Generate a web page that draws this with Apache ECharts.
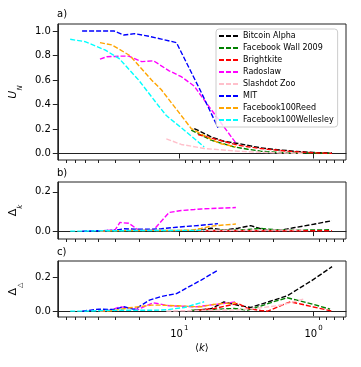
<!DOCTYPE html>
<html>
<head>
<meta charset="utf-8">
<script src="https://cdn.jsdelivr.net/npm/echarts@6/dist/echarts.min.js"></script>
<style>
  html, body { margin: 0; padding: 0; background: #fff; }
  #chart { width: 361px; height: 367px; }
</style>
</head>
<body>
<div id="chart"></div>
<script>
// <k> values and the three measures per network
const names = ['Bitcoin Alpha', 'Facebook Wall 2009', 'Brightkite', 'Radoslaw', 'Slashdot Zoo', 'MIT', 'Facebook100Reed', 'Facebook100Wellesley'];
const colors = ['#000000', '#008000', '#ff0000', '#ff00ff', '#ffc0cb', '#0000ff', '#ffa500', '#00ffff'];

const bitcoinK  = [7.74, 5.80, 4.65, 3.66, 2.94, 2.48, 2.20, 1.76, 1.57, 1.41, 1.0, 0.728];
const bitcoinU  = [0.204, 0.136, 0.10, 0.082, 0.062, 0.046, 0.04, 0.028, 0.024, 0.019, 0.008, 0.005];
const bitcoinDk = [0, 0.015, 0.005, 0.015, 0.028, 0.012, 0.005, 0.005, 0.011, 0.017, 0.035, 0.053];
const bitcoinDt = [0.005, 0.014, 0.055, 0.035, 0.022, 0.041, 0.054, 0.079, 0.092, 0.115, 0.19, 0.266];

const fbWallK  = [8.15, 5.80, 3.92, 3.09, 2.48, 1.92, 1.57, 1.25, 1.0, 0.753];
const fbWallU  = [0.19, 0.109, 0.054, 0.035, 0.019, 0.01, 0.006, 0.004, 0.003, 0.002];
const fbWallDk = [0.003, 0.004, 0.005, 0.008, 0.014, 0.007, 0.005, 0.005, 0.006, 0.007];
const fbWallDt = [0.005, 0.01, 0.016, 0.006, 0.03, 0.06, 0.08, 0.06, 0.04, 0.012];

const brightK  = [7.24, 5.51, 3.66, 3.09, 2.48, 2.20, 1.49, 1.25, 1.0, 0.728];
const brightU  = [0.155, 0.12, 0.068, 0.055, 0.041, 0.035, 0.017, 0.012, 0.006, 0.001];
const brightDk = [0.002, 0.002, 0.002, 0.002, 0.002, 0.002, 0.002, 0.002, 0.002, 0.002];
const brightDt = [0.005, 0.016, 0.046, 0.016, 0.004, 0.0, 0.056, 0.043, 0.025, 0.0];

const radoK  = [39.0, 34.7, 30.2, 27.7, 23.8, 20.1, 19.1, 15.6, 11.9, 9.67, 7.74, 6.87, 3.79];
const radoU  = [0.77, 0.79, 0.792, 0.795, 0.795, 0.76, 0.75, 0.757, 0.675, 0.627, 0.55, 0.47, 0.085];
const radoDk = [0, 0.003, 0.005, 0.044, 0.04, 0.005, 0.004, 0.005, 0.095, 0.105, 0.11, 0.113, 0.12];
const radoDt = [0, 0.002, 0.015, 0.026, 0.02, 0.01, 0.02, 0.05, 0.032, 0.03, 0.025, 0.03, 0.055];

const slashK  = [12.5, 9.67, 6.53, 3.66, 2.48, 1.85, 1.49, 1.19];
const slashU  = [0.12, 0.074, 0.041, 0.019, 0.01, 0.005, 0.003, 0.002];
const slashDk = [0.003, 0.004, 0.004, 0.005, 0.005, 0.005, 0.005, 0.005];
const slashDt = [0, 0.002, 0.005, 0.008, 0.02, 0.033, 0.05, 0.072];

const mitK  = [53.0, 39.7, 30.7, 25.9, 21.5, 16.7, 13.6, 10.5, 6.87, 5.15];
const mitU  = [1.0, 1.0, 1.0, 0.967, 0.978, 0.956, 0.934, 0.905, 0.50, 0.21];
const mitDk = [0, 0.002, 0.004, 0.012, 0.01, 0.01, 0.012, 0.02, 0.03, 0.038];
const mitDt = [0, 0.012, 0.01, 0.026, 0.01, 0.066, 0.088, 0.105, 0.186, 0.245];

const reedK  = [39.0, 31.8, 23.4, 16.1, 13.6, 8.15, 6.87, 5.80, 4.90, 3.79];
const reedU  = [0.905, 0.886, 0.80, 0.60, 0.52, 0.204, 0.16, 0.115, 0.08, 0.054];
const reedDk = [0, 0.002, 0.003, 0.004, 0.003, 0.005, 0.014, 0.025, 0.03, 0.036];
const reedDt = [0, 0.002, 0.02, 0.036, 0.036, 0.028, 0.026, 0.038, 0.045, 0.05];

const wellK  = [65.0, 50.4, 35.8, 28.2, 20.1, 14.3, 12.5, 9.18, 6.53];
const wellU  = [0.932, 0.913, 0.845, 0.777, 0.60, 0.39, 0.31, 0.19, 0.054];
const wellDk = [0, 0, 0.002, 0.002, 0.003, 0.003, 0.003, 0.004, 0.004];
const wellDt = [0, 0, 0.004, 0.005, 0.005, 0.006, 0.008, 0.022, 0.056];

const majorTicks = [1, 10];
const minorTicks = [0.6, 0.7, 0.8, 0.9, 2, 3, 4, 5, 6, 7, 8, 9, 20, 30, 40, 50, 60, 70];
const uTicks = [0, 0.2, 0.4, 0.6, 0.8, 1.0];
const dTicks = [0, 0.2];

const nets = [
  [bitcoinK, bitcoinU, bitcoinDk, bitcoinDt],
  [fbWallK, fbWallU, fbWallDk, fbWallDt],
  [brightK, brightU, brightDk, brightDt],
  [radoK, radoU, radoDk, radoDt],
  [slashK, slashU, slashDk, slashDt],
  [mitK, mitU, mitDk, mitDt],
  [reedK, reedU, reedDk, reedDt],
  [wellK, wellU, wellDk, wellDt]
];

const FONT = 'DejaVu Sans';
const xMin = 0.573, xMax = 80.4;

let chart = echarts.init(document.getElementById('chart'), null, {renderer: 'canvas'});

const grids = [
  {left: 55, right: 15, top: 24, height: 136},
  {left: 55, right: 15, top: 182, height: 57},
  {left: 55, right: 15, top: 261, height: 56}
].map(g => Object.assign({show: true, borderColor: '#222', borderWidth: 1, backgroundColor: 'transparent'}, g));

function xAxes(gi) {
  const last = gi === 2;
  return [{
    type: 'log', gridIndex: gi, position: 'bottom', inverse: true, min: xMin, max: xMax, logBase: 10,
    axisLine: {lineStyle: {color: '#222', width: 1}},
    axisTick: {customValues: majorTicks, length: 5, lineStyle: {color: '#222'}},
    axisLabel: {
      show: last, customValues: majorTicks, margin: 8, color: '#000',
      formatter: v => '{n|10}{sup|' + (v >= 5 ? '1' : '0') + '}',
      rich: {
        n: {fontSize: 10, fontFamily: FONT, color: '#000', lineHeight: 14, verticalAlign: 'bottom'},
        sup: {fontSize: 7, fontFamily: FONT, color: '#000', lineHeight: 14, verticalAlign: 'top', padding: [0, 0, 4, 1]}
      }
    },
    splitLine: {show: false},
    name: last ? '⟨{i|k}⟩' : '',
    nameLocation: 'middle', nameGap: 26,
    nameTextStyle: {fontSize: 10, fontFamily: FONT, color: '#000', rich: {i: {fontSize: 10, fontStyle: 'italic', fontFamily: FONT}}}
  }, {
    // second axis on the same scale, only for the minor ticks
    type: 'log', gridIndex: gi, position: 'bottom', offset: 0, inverse: true, min: xMin, max: xMax, logBase: 10,
    axisLine: {show: false},
    axisTick: {customValues: minorTicks, length: 3, lineStyle: {color: '#222'}},
    axisLabel: {show: false},
    splitLine: {show: false}
  }];
}

function yAxis(gi, min, max, ticks, name) {
  return {
    type: 'value', gridIndex: gi, min: min, max: max,
    axisLine: {show: true, lineStyle: {color: '#222', width: 1}},
    axisTick: {show: true, customValues: ticks, length: 5, lineStyle: {color: '#222'}},
    axisLabel: {customValues: ticks, formatter: v => v.toFixed(1), fontSize: 10, fontFamily: FONT, color: '#000', margin: 7},
    splitLine: {show: false},
    name: name, nameLocation: 'middle', nameGap: 30, nameRotate: 90,
    nameTextStyle: {
      color: '#000', fontFamily: FONT,
      rich: {
        b: {fontSize: 11, fontFamily: FONT, fontStyle: 'italic', lineHeight: 16, verticalAlign: 'top'},
        d: {fontSize: 11, fontFamily: FONT, lineHeight: 16, verticalAlign: 'top'},
        s: {fontSize: 7, fontFamily: FONT, fontStyle: 'italic', lineHeight: 16, verticalAlign: 'bottom'}
      }
    }
  };
}

const series = [];
const panels = [1, 2, 3];
panels.forEach((col, p) => {
  nets.forEach((net, n) => {
    series.push({
      name: names[n], type: 'line', xAxisIndex: p * 2, yAxisIndex: p,
      data: net[0].map((k, i) => [k, net[col][i]]),
      symbol: 'none', color: colors[n],
      lineStyle: {color: colors[n], width: 1.4, type: [5, 2]},
      animation: false, silent: true
    });
  });
});

const option = {
  animation: false,
  textStyle: {fontFamily: FONT},
  title: [
    {text: 'a)', left: 57, top: 9, padding: 0, textStyle: {fontSize: 10, fontWeight: 'normal', fontFamily: FONT, color: '#000'}},
    {text: 'b)', left: 57, top: 168, padding: 0, textStyle: {fontSize: 10, fontWeight: 'normal', fontFamily: FONT, color: '#000'}},
    {text: 'c)', left: 57, top: 247, padding: 0, textStyle: {fontSize: 10, fontWeight: 'normal', fontFamily: FONT, color: '#000'}}
  ],
  legend: {
    data: names, orient: 'vertical', left: 216, top: 29,
    padding: [3, 4, 3, 2], itemWidth: 19, itemHeight: 8, itemGap: 4,
    backgroundColor: 'rgba(255,255,255,0.8)', borderColor: '#ccc', borderWidth: 1, borderRadius: 3,
    itemStyle: {opacity: 0},
    textStyle: {fontSize: 8, fontFamily: FONT, color: '#000', lineHeight: 8},
    selectedMode: false
  },
  grid: grids,
  xAxis: [].concat(xAxes(0), xAxes(1), xAxes(2)),
  yAxis: [
    yAxis(0, -0.053, 1.057, uTicks, '{b|U}{s|N}'),
    yAxis(1, -0.04, 0.25, dTicks, '{d|Δ}{s|k}'),
    yAxis(2, -0.035, 0.30, dTicks, '{d|Δ}{s|△}')
  ],
  series: series
};

chart.setOption(option);
window.addEventListener('resize', function() {
  chart.resize();
});
</script>
</body>
</html>
